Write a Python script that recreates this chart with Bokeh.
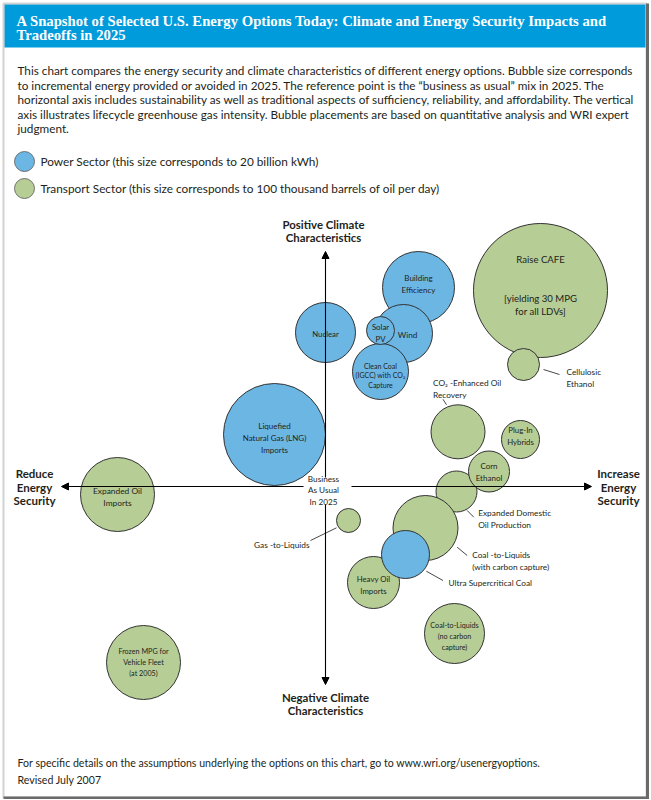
from bokeh.plotting import figure
from bokeh.models import Range1d, Label, BoxAnnotation, Arrow, NormalHead
from bokeh.core.properties import value
from bokeh.embed import file_html
from bokeh.resources import INLINE

# ---------------- data ----------------
title_lines = ["A Snapshot of Selected U.S. Energy Options Today: Climate and Energy Security Impacts and",
               "Tradeoffs in 2025"]
body_lines = [
    "This chart compares the energy security and climate characteristics of different energy options. Bubble size corresponds",
    "to incremental energy provided or avoided in 2025. The reference point is the \u201cbusiness as usual\u201d mix in 2025. The",
    "horizontal axis includes sustainability as well as traditional aspects of sufficiency, reliability, and affordability. The vertical",
    "axis illustrates lifecycle greenhouse gas intensity. Bubble placements are based on quantitative analysis and WRI expert",
    "judgment.",
]
legend_labels = ["Power Sector (this size corresponds to 20 billion kWh)",
                 "Transport Sector (this size corresponds to 100 thousand barrels of oil per day)"]
footer_lines = ["For specific details on the assumptions underlying the options on this chart, go to www.wri.org/usenergyoptions.",
                "Revised July 2007"]

# Power sector options: energy-security score (x), climate score (y), bubble radius (chart units)
power_names = ["Building Efficiency", "Wind", "Clean Coal (IGCC) with CO2 Capture", "Solar PV",
               "Nuclear", "Liquefied Natural Gas (LNG) Imports", "Ultra Supercritical Coal"]
power_security = [9.3, 7.8, 5.5, 5.5, 0.0, -5.1, 8.0]
power_climate = [19.9, 15.3, 11.5, 15.6, 15.4, 5.2, -6.8]
power_radius = [3.6, 2.9, 2.8, 1.4, 3.0, 5.1, 2.4]

# Transport sector options
transport_names = ["Raise CAFE", "Cellulosic Ethanol", "CO2-Enhanced Oil Recovery", "Plug-In Hybrids",
                   "Expanded Domestic Oil Production", "Corn Ethanol", "Coal-to-Liquids (with carbon capture)",
                   "Heavy Oil Imports", "Coal-to-Liquids (no carbon capture)",
                   "Frozen MPG for Vehicle Fleet (at 2005)", "Expanded Oil Imports", "Gas-to-Liquids"]
transport_security = [21.5, 19.8, 13.25, 19.5, 13.1, 16.35, 10.0, 4.8, 12.9, -18.2, -20.8, 2.3]
transport_climate = [19.6, 12.2, 5.47, 4.7, -0.5, 1.5, -4.15, -9.6, -14.7, -17.6, -0.8, -3.4]
transport_radius = [6.7, 1.6, 2.7, 1.9, 2.05, 2.05, 3.25, 2.6, 3.0, 3.7, 3.7, 1.2]

# text shown for each bubble
display_text = {
    "Building Efficiency": "Building\nEfficiency",
    "Wind": "Wind",
    "Clean Coal (IGCC) with CO2 Capture": "Clean Coal\n(IGCC) with CO\u2082\nCapture",
    "Solar PV": "Solar\nPV",
    "Nuclear": "Nuclear",
    "Liquefied Natural Gas (LNG) Imports": "Liquefied\nNatural Gas (LNG)\nImports",
    "Ultra Supercritical Coal": "Ultra Supercritical Coal",
    "Raise CAFE": "Raise CAFE\n\n\n[yielding 30 MPG\nfor all LDVs]",
    "Cellulosic Ethanol": "Cellulosic\nEthanol",
    "CO2-Enhanced Oil Recovery": "CO\u2082 -Enhanced Oil\nRecovery",
    "Plug-In Hybrids": "Plug-In\nHybrids",
    "Expanded Domestic Oil Production": "Expanded Domestic\nOil Production",
    "Corn Ethanol": "Corn\nEthanol",
    "Coal-to-Liquids (with carbon capture)": "Coal -to-Liquids\n(with carbon capture)",
    "Heavy Oil Imports": "Heavy Oil\nImports",
    "Coal-to-Liquids (no carbon capture)": "Coal-to-Liquids\n(no carbon\ncapture)",
    "Frozen MPG for Vehicle Fleet (at 2005)": "Frozen MPG for\nVehicle Fleet\n(at 2005)",
    "Expanded Oil Imports": "Expanded Oil\nImports",
    "Gas-to-Liquids": "Gas -to-Liquids",
}
reference_point = "Business\nAs Usual\nIn 2025"

# ---------------- styles / layout ----------------
S = 10.0                 # pixels per chart unit
CX, CY = 325.0, 486.0    # canvas position of the reference point
W, H = 651, 800
BLUE, GREEN = "#6cb6e4", "#b6cd96"
INK = "#231f20"
FONT = "Lato"


def ux(px):
    return (px - CX) / S


def uy(py):
    return (CY - py) / S


# inner label: (font size, vertical offset px)
inner_style = {
    "Building Efficiency": (8.0, -4), "Wind": (8.2, 1), "Clean Coal (IGCC) with CO2 Capture": (7.0, 4),
    "Solar PV": (7.8, 2), "Nuclear": (7.8, 1), "Liquefied Natural Gas (LNG) Imports": (8.0, 3),
    "Raise CAFE": (9.6, -5), "Plug-In Hybrids": (7.8, -4), "Corn Ethanol": (8.0, 0),
    "Heavy Oil Imports": (7.8, 2), "Coal-to-Liquids (no carbon capture)": (7.2, 3),
    "Frozen MPG for Vehicle Fleet (at 2005)": (7.2, 0), "Expanded Oil Imports": (8.4, 2),
}
inner_xoff = {"Wind": 4}
# callouts: leader start (dx,dy) px, leader end (dx,dy) px, text anchor (dx,dy) px, align
callouts = {
    "Cellulosic Ethanol": ((20, 5), (36, 10), (43, 13), "left"),
    "CO2-Enhanced Oil Recovery": ((-11.5, -27), (-15, -32.5), (-25, -42.5), "left"),
    "Expanded Domestic Oil Production": ((10.7, 19), (17.3, 25.7), (21.7, 27.3), "left"),
    "Coal-to-Liquids (with carbon capture)": ((31.7, 19.2), (41.7, 27.5), (46.7, 33), "left"),
    "Ultra Supercritical Coal": ((20.8, 16.7), (37.5, 26), (43, 28), "left"),
    "Gas-to-Liquids": ((-12, 7.3), (-38, 20), (-39, 24), "right"),
}

p = figure(width=W, height=H, x_range=Range1d(ux(0), ux(W)), y_range=Range1d(uy(H), uy(0)),
           output_backend="svg", toolbar_location=None, min_border=0,
           x_axis_location=None, y_axis_location=None)
p.grid.visible = False
p.outline_line_color = None
p.background_fill_color = "white"
p.border_fill_color = "white"


def box(left, top, right, bottom, **kw):
    p.add_layout(BoxAnnotation(left=left, right=right, top=H - top, bottom=H - bottom,
                               left_units="screen", right_units="screen", top_units="screen",
                               bottom_units="screen", **kw))


def lab(text, px, py, size, bold=False, color=INK, align="left", font=FONT):
    p.add_layout(Label(x=px, y=H - py, x_units="screen", y_units="screen", text=text,
                       text_font=font, text_font_size=f"{size}px", text_color=color,
                       text_font_style="bold" if bold else "normal",
                       text_align=align, text_baseline="middle"))


# frame and title bar
box(4, 4, 645, 47, fill_color="#009bdb", fill_alpha=1, line_color=None, level="underlay")
box(3, 3, 646, 797, fill_color=None, fill_alpha=0, line_color="#6a6a6a", line_width=2)
box(645.5, 3, 648.5, 798, fill_color="#6a6a6a", fill_alpha=1, line_color=None)
box(3, 796, 648.5, 798.5, fill_color="#6a6a6a", fill_alpha=1, line_color=None)

for i, t in enumerate(title_lines):
    lab(t, 16, 20 + 14.4 * i, 14.7, bold=True, color="white", font="Liberation Serif")
for i, t in enumerate(body_lines):
    lab(t, 17, 70 + 14.6 * i, 11.75)
for i, t in enumerate(legend_labels):
    lab(t, 40, 161 + 27 * i, 11.8)
for i, t in enumerate(footer_lines):
    lab(t, 17, 762 + 17 * i, 10.6)

# legend swatches
p.circle(x=[ux(24), ux(24)], y=[uy(161), uy(188)], radius=10 / S, fill_color=[BLUE, GREEN],
         line_color="#555555", line_width=0.8)

# axes with arrows
for (x0, y0, x1, y1) in [(ux(351), 0, ux(591), 0), (ux(303), 0, ux(61), 0),
                         (0, uy(477), 0, uy(251)), (0, uy(504), 0, uy(684))]:
    p.add_layout(Arrow(x_start=x0, y_start=y0, x_end=x1, y_end=y1, line_color="black", line_width=1.1,
                       end=NormalHead(size=7, fill_color="black", line_color="black")))

# axis captions
for i, t in enumerate(["Positive Climate", "Characteristics"]):
    lab(t, 323, 224 + 13 * i, 11.4, bold=True, align="center")
for i, t in enumerate(["Negative Climate", "Characteristics"]):
    lab(t, 325, 697 + 13 * i, 11.4, bold=True, align="center")
for i, t in enumerate(["Reduce", "Energy", "Security"]):
    lab(t, 34, 473 + 13.5 * i, 11.5, bold=True, align="center")
for i, t in enumerate(["Increase", "Energy", "Security"]):
    lab(t, 618, 473 + 13.5 * i, 11.5, bold=True, align="center")

# bubbles
p.circle(x=transport_security, y=transport_climate, radius=transport_radius, fill_color=GREEN,
         line_color="#333333", line_width=1)
p.circle(x=power_security, y=power_climate, radius=power_radius, fill_color=BLUE,
         line_color="#333333", line_width=1)

# reference point label
p.text(x=[ux(323)], y=[uy(490)], text=[reference_point], text_font=value(FONT), text_font_size="8.2px",
       text_align="center", text_baseline="middle", text_color=INK, text_line_height=1.12)

names = power_names + transport_names
xs = power_security + transport_security
ys = power_climate + transport_climate
for n, x, y in zip(names, xs, ys):
    if n in inner_style:
        size, off = inner_style[n]
        p.text(x=[x + inner_xoff.get(n, 0) / S], y=[y - off / S], text=[display_text[n]],
               text_font=value(FONT), text_font_size=f"{size}px", text_align="center",
               text_baseline="middle", text_color=INK, text_line_height=1.2)
    elif n in callouts:
        (sx, sy), (ex, ey), (tx, ty), al = callouts[n]
        p.segment(x0=[x + sx / S], y0=[y - sy / S], x1=[x + ex / S], y1=[y - ey / S],
                  line_color="#333333", line_width=0.9)
        p.text(x=[x + tx / S], y=[y - ty / S], text=[display_text[n]], text_font=value(FONT),
               text_font_size="8.3px", text_align=al, text_baseline="middle", text_color=INK,
               text_line_height=1.2)

open("out.html", "w").write(file_html(p, INLINE))
